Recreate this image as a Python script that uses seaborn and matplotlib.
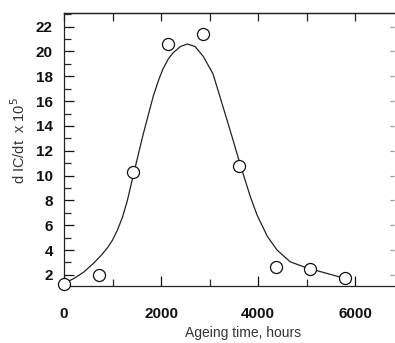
import matplotlib
matplotlib.use('Agg')
import matplotlib.pyplot as plt
from matplotlib.ticker import MultipleLocator, NullFormatter
import seaborn as sns
import pandas as pd

# measured points (open circles)
ageing_hours = [0, 720, 1420, 2150, 2870, 3610, 4370, 5070, 5790]
dic_dt = [1.3, 2.0, 10.3, 20.6, 21.4, 10.8, 2.65, 2.5, 1.75]

# fitted curve
curve_hours = [0, 200, 400, 600, 750, 900, 1000, 1100, 1200, 1300, 1420, 1630,
               1840, 1950, 2040, 2150, 2250, 2400, 2540, 2700, 2870, 3070,
               3280, 3480, 3630, 3840, 3980, 4190, 4390, 4660, 5010, 5340, 5750]
curve_dic = [1.3, 1.7, 2.2, 2.9, 3.5, 4.2, 4.8, 5.6, 6.6, 7.9, 9.9, 13.3,
             16.4, 17.7, 18.6, 19.4, 19.9, 20.4, 20.6, 20.4, 19.6, 18.2,
             15.5, 12.9, 10.9, 8.3, 6.8, 5.1, 4.0, 3.05, 2.55, 2.2, 1.75]

pts = pd.DataFrame({'hours': ageing_hours, 'dic': dic_dt})
fit = pd.DataFrame({'hours': curve_hours, 'dic': curve_dic})

sns.set_style('ticks')
plt.rcParams['font.family'] = ['Liberation Sans', 'DejaVu Sans']

fig = plt.figure(figsize=(3.95, 3.43), dpi=100)
ax = fig.add_axes([64 / 395, 1 - 286 / 343, (394 - 64) / 395, (286 - 13) / 343])

sns.lineplot(data=fit, x='hours', y='dic', ax=ax, color='#222222', linewidth=0.9,
             sort=False)
sns.scatterplot(data=pts, x='hours', y='dic', ax=ax, marker='o', s=75,
                facecolor='white', edgecolor='#111111', linewidth=0.9,
                clip_on=False, zorder=5)

ax.set_xlim(0, 6800)
ax.set_ylim(1.1, 23.1)

ax.xaxis.set_major_locator(MultipleLocator(2000))
ax.xaxis.set_minor_locator(MultipleLocator(1000))
ax.yaxis.set_major_locator(MultipleLocator(2))
ax.yaxis.set_minor_locator(MultipleLocator(1))
ax.set_yticks(range(2, 23, 2))

ax.tick_params(which='major', direction='in', length=7, width=0.9,
               labelsize=11, colors='#111111', pad=15)
ax.tick_params(which='minor', direction='in', length=5, width=0.9)
ax.tick_params(axis='y', which='major', pad=8)
for lab in ax.get_xticklabels() + ax.get_yticklabels():
    lab.set_fontweight('bold')

# top: equal ticks every 1000, right: faint ticks every 2
top = ax.secondary_xaxis('top')
top.xaxis.set_major_locator(MultipleLocator(1000))
top.xaxis.set_major_formatter(NullFormatter())
top.tick_params(direction='in', length=6, width=0.9, colors='#222222')
right = ax.secondary_yaxis('right')
right.yaxis.set_major_locator(MultipleLocator(2))
right.yaxis.set_major_formatter(NullFormatter())
right.tick_params(direction='in', length=3, width=0.9, colors='#999999')
right.spines['right'].set_visible(False)

for side in ['left', 'bottom', 'top']:
    ax.spines[side].set_linewidth(0.9)
    ax.spines[side].set_color('#222222')
top.spines['top'].set_linewidth(0.9)
top.spines['top'].set_color('#222222')
ax.spines['right'].set_visible(False)

ax.set_xlabel('Ageing time, hours', fontsize=10, color='#333333')
ax.set_ylabel('d IC/dt  x 10$^5$', fontsize=10.5, color='#333333')
ax.xaxis.set_label_coords((243 - 64) / 330, -(326 - 286) / 273)
ax.yaxis.set_label_coords(-(64 - 28) / 330, (286 - 141) / 273)

fig.savefig('out.png', dpi=100)
